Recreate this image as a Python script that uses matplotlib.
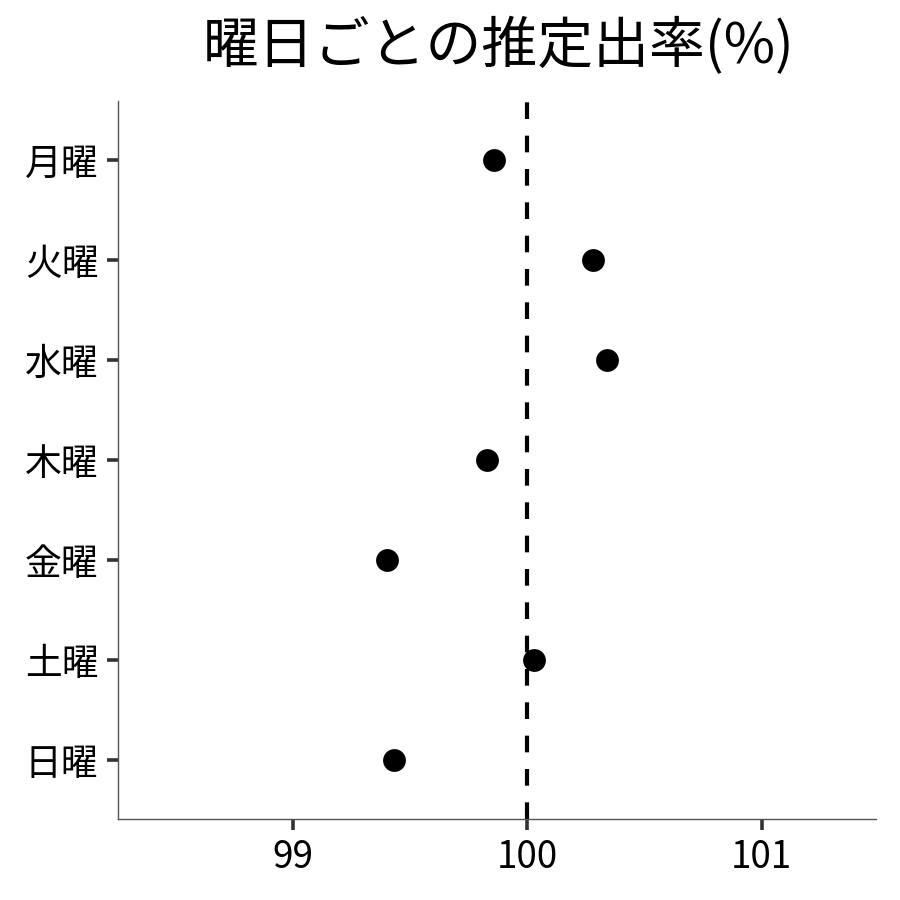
import matplotlib.pyplot as plt

plt.rcParams['font.family'] = ['Noto Sans CJK JP', 'DejaVu Sans']

days = ["月曜", "火曜", "水曜", "木曜", "金曜", "土曜", "日曜"]
rates = [99.86, 100.28, 100.34, 99.83, 99.40, 100.03, 99.43]
xticks = [99, 100, 101]

ypos = list(range(len(days), 0, -1))  # 月曜 at top

fig = plt.figure(figsize=(9, 9), dpi=100)
ax = fig.add_axes([0.131, 0.09, 0.842, 0.798])

ax.axvline(100, color="black", lw=3.0, dashes=(4, 4), zorder=1)
ax.scatter(rates, ypos, s=270, color="black", zorder=2, linewidths=0)

ax.set_xlim(98.254, 101.486)
ax.set_ylim(0.41, 7.59)
ax.set_xticks(xticks)
ax.set_xticklabels([str(t) for t in xticks])
ax.set_yticks(ypos)
ax.set_yticklabels(days)

for s in ["top", "right"]:
    ax.spines[s].set_visible(False)
for s in ["left", "bottom"]:
    ax.spines[s].set_color("#555555")
    ax.spines[s].set_linewidth(1.0)

ax.tick_params(axis="both", length=8, width=2.6, color="#333333",
               labelsize=26.5, labelcolor="black", pad=6)

fig.text(0.554, 0.948, "曜日ごとの推定出率(%)", ha="center", va="center", fontsize=40.2)

fig.savefig("out.png", dpi=100, facecolor="white")
